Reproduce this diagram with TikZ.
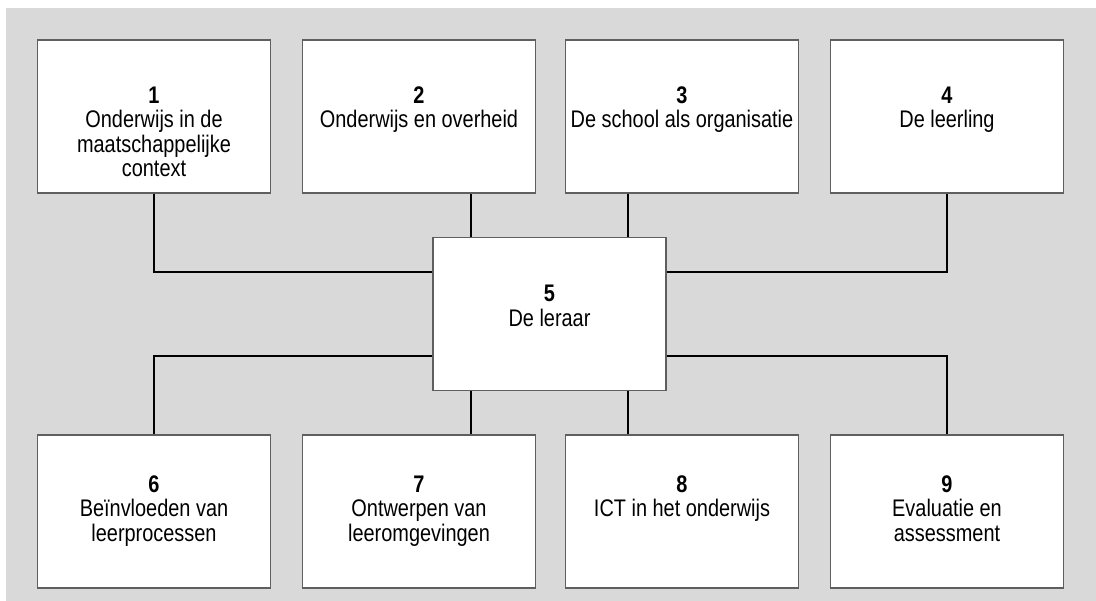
\documentclass[tikz,border=0pt]{standalone}
\usepackage{fontspec}
\setmainfont{Liberation Sans}[FakeStretch=0.83]
\usetikzlibrary{positioning, calc}
\definecolor{panelgrey}{RGB}{217,217,217}
\definecolor{boxline}{RGB}{95,95,95}
\tikzset{
    topic box/.style={rectangle, draw=boxline, line width=1.2pt, fill=white, minimum width=233pt, minimum height=153pt, inner sep=0pt},
    topic text/.style={anchor=north, align=center, inner sep=0pt, font=\fontsize{24}{24.6}\selectfont},
    link/.style={draw=black, line width=1.8pt},
}
\newcommand{\topicnr}[1]{\textbf{#1}}

\begin{document}
\begin{tikzpicture}[x=1pt, y=-1pt]
    \useasboundingbox (0,0) rectangle (1096,601);
    \fill[panelgrey] (6,8) rectangle (1096,601);

    % top row
    \node[topic box] (b1) at (154,116.5) {};
    \node[topic box] (b2) at (419,116.5) {};
    \node[topic box] (b3) at (682,116.5) {};
    \node[topic box] (b4) at (947,116.5) {};
    % centre
    \node[topic box] (b5) at (549.5,314) {};
    % bottom row
    \node[topic box] (b6) at (154,511.5) {};
    \node[topic box] (b7) at (419,511.5) {};
    \node[topic box] (b8) at (682,511.5) {};
    \node[topic box] (b9) at (947,511.5) {};

    % connectors
    \draw[link] (b1.south) |- ([yshift=42pt]b5.west);
    \draw[link] (b4.south) |- ([yshift=42pt]b5.east);
    \draw[link] ([xshift=-78.5pt]b5.north) -- ([xshift=-78.5pt]b5.north |- b2.south);
    \draw[link] ([xshift=78.5pt]b5.north) -- ([xshift=78.5pt]b5.north |- b3.south);
    \draw[link] (b6.north) |- ([yshift=-42pt]b5.west);
    \draw[link] (b9.north) |- ([yshift=-42pt]b5.east);
    \draw[link] ([xshift=-78.5pt]b5.south) -- ([xshift=-78.5pt]b5.south |- b7.north);
    \draw[link] ([xshift=78.5pt]b5.south) -- ([xshift=78.5pt]b5.south |- b8.north);

    % labels
    \node[topic text] (t1) at ([yshift=-47pt]b1.north) {\topicnr{1}\\Onderwijs in de\\maatschappelijke\\context};
    \node[topic text] (t2) at ([yshift=-47pt]b2.north) {\topicnr{2}\\Onderwijs en overheid};
    \node[topic text] (t3) at ([yshift=-47pt]b3.north) {\topicnr{3}\\De school als organisatie};
    \node[topic text] (t4) at ([yshift=-47pt]b4.north) {\topicnr{4}\\De leerling};
    \node[topic text] (t5) at ([yshift=-48pt]b5.north) {\topicnr{5}\\De leraar};
    \node[topic text] (t6) at ([yshift=-41pt]b6.north) {\topicnr{6}\\Beïnvloeden van\\leerprocessen};
    \node[topic text] (t7) at ([yshift=-41pt]b7.north) {\topicnr{7}\\Ontwerpen van\\leeromgevingen};
    \node[topic text] (t8) at ([yshift=-41pt]b8.north) {\topicnr{8}\\ICT in het onderwijs};
    \node[topic text] (t9) at ([yshift=-41pt]b9.north) {\topicnr{9}\\Evaluatie en\\assessment};
\end{tikzpicture}
\end{document}
